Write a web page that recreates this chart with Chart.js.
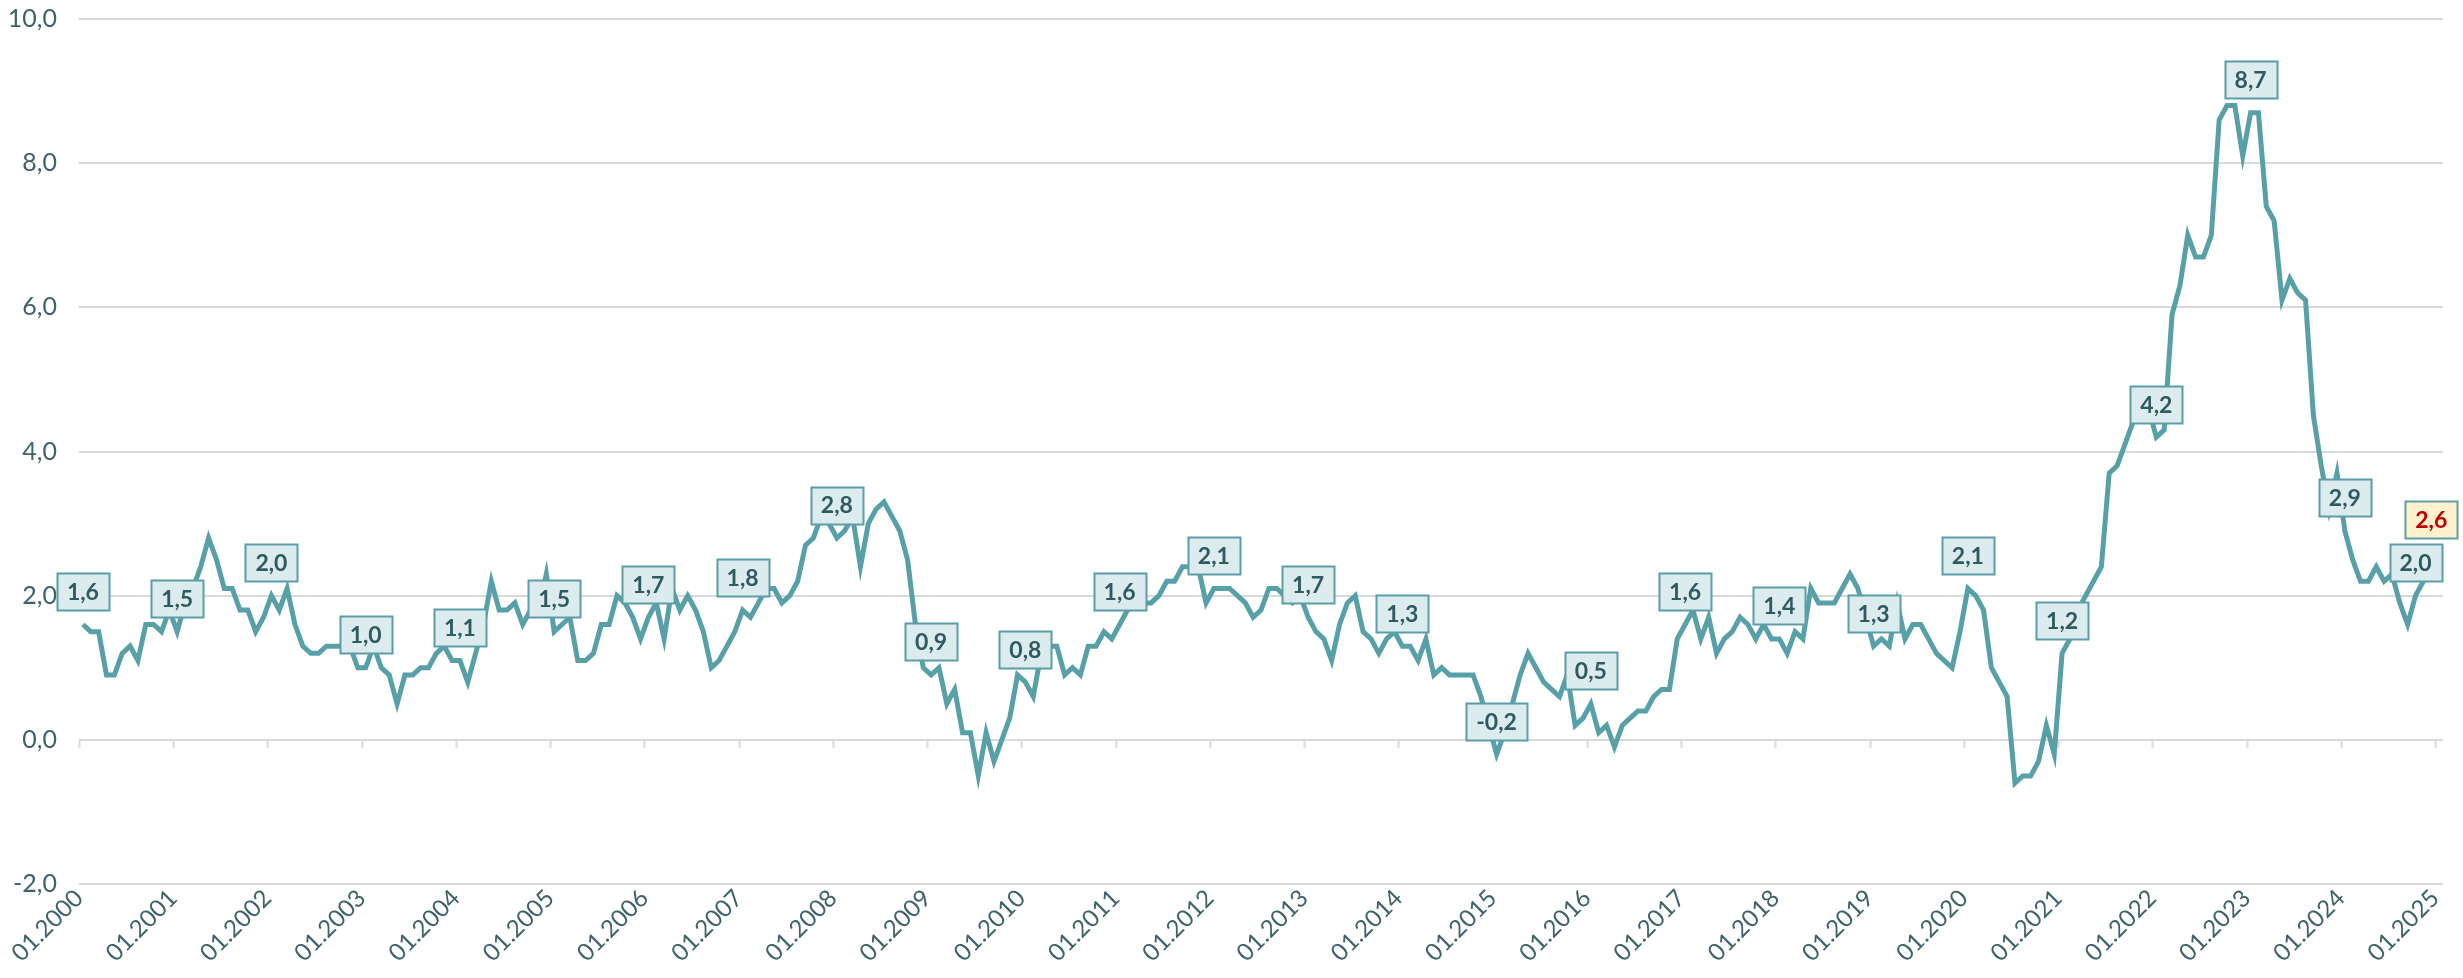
<!DOCTYPE html>
<html>
<head>
<meta charset="utf-8">
<script src="https://cdn.jsdelivr.net/npm/chart.js@4.4.1/dist/chart.umd.min.js"></script>
<style>
  html, body { margin: 0; padding: 0; background: #fff; }
  canvas { display: block; }
</style>
</head>
<body>
<canvas id="cpiChart" width="2463" height="978"></canvas>
<script>
// Monthly yearly change in %, Jan..Dec for each year
const y2000 = [1.6, 1.5, 1.5, 0.9, 0.9, 1.2, 1.3, 1.1, 1.6, 1.6, 1.5, 1.8];
const y2001 = [1.5, 1.9, 2.1, 2.4, 2.8, 2.5, 2.1, 2.1, 1.8, 1.8, 1.5, 1.7];
const y2002 = [2.0, 1.8, 2.1, 1.6, 1.3, 1.2, 1.2, 1.3, 1.3, 1.3, 1.3, 1.0];
const y2003 = [1.0, 1.3, 1.0, 0.9, 0.5, 0.9, 0.9, 1.0, 1.0, 1.2, 1.3, 1.1];
const y2004 = [1.1, 0.8, 1.2, 1.6, 2.2, 1.8, 1.8, 1.9, 1.6, 1.8, 1.8, 2.3];
const y2005 = [1.5, 1.6, 1.7, 1.1, 1.1, 1.2, 1.6, 1.6, 2.0, 1.9, 1.7, 1.4];
const y2006 = [1.7, 1.9, 1.4, 2.1, 1.8, 2.0, 1.8, 1.5, 1.0, 1.1, 1.3, 1.5];
const y2007 = [1.8, 1.7, 1.9, 2.1, 2.1, 1.9, 2.0, 2.2, 2.7, 2.8, 3.1, 3.0];
const y2008 = [2.8, 2.9, 3.1, 2.4, 3.0, 3.2, 3.3, 3.1, 2.9, 2.5, 1.6, 1.0];
const y2009 = [0.9, 1.0, 0.5, 0.7, 0.1, 0.1, -0.5, 0.1, -0.3, 0.0, 0.3, 0.9];
const y2010 = [0.8, 0.6, 1.2, 1.3, 1.3, 0.9, 1.0, 0.9, 1.3, 1.3, 1.5, 1.4];
const y2011 = [1.6, 1.8, 1.9, 1.9, 1.9, 2.0, 2.2, 2.2, 2.4, 2.4, 2.4, 1.9];
const y2012 = [2.1, 2.1, 2.1, 2.0, 1.9, 1.7, 1.8, 2.1, 2.1, 2.0, 1.9, 2.0];
const y2013 = [1.7, 1.5, 1.4, 1.1, 1.6, 1.9, 2.0, 1.5, 1.4, 1.2, 1.4, 1.5];
const y2014 = [1.3, 1.3, 1.1, 1.4, 0.9, 1.0, 0.9, 0.9, 0.9, 0.9, 0.6, 0.2];
const y2015 = [-0.2, 0.1, 0.5, 0.9, 1.2, 1.0, 0.8, 0.7, 0.6, 0.9, 0.2, 0.3];
const y2016 = [0.5, 0.1, 0.2, -0.1, 0.2, 0.3, 0.4, 0.4, 0.6, 0.7, 0.7, 1.4];
const y2017 = [1.6, 1.8, 1.4, 1.7, 1.2, 1.4, 1.5, 1.7, 1.6, 1.4, 1.6, 1.4];
const y2018 = [1.4, 1.2, 1.5, 1.4, 2.1, 1.9, 1.9, 1.9, 2.1, 2.3, 2.1, 1.7];
const y2019 = [1.3, 1.4, 1.3, 1.9, 1.4, 1.6, 1.6, 1.4, 1.2, 1.1, 1.0, 1.5];
const y2020 = [2.1, 2.0, 1.8, 1.0, 0.8, 0.6, -0.6, -0.5, -0.5, -0.3, 0.2, -0.2];
const y2021 = [1.2, 1.4, 1.8, 2.0, 2.2, 2.4, 3.7, 3.8, 4.1, 4.4, 4.7, 4.6];
const y2022 = [4.2, 4.3, 5.9, 6.3, 7.0, 6.7, 6.7, 7.0, 8.6, 8.8, 8.8, 8.1];
const y2023 = [8.7, 8.7, 7.4, 7.2, 6.1, 6.4, 6.2, 6.1, 4.5, 3.8, 3.2, 3.7];
const y2024 = [2.9, 2.5, 2.2, 2.2, 2.4, 2.2, 2.3, 1.9, 1.6, 2.0, 2.2, null];

// latest value (12.2024), shown only as highlighted label
const latestMonth = '12.2024';
const latestValue = 2.6;

// months that get a value box
const labelledMonths = [
  '01.2000', '01.2001', '01.2002', '01.2003', '01.2004', '01.2005', '01.2006',
  '01.2007', '01.2008', '01.2009', '01.2010', '01.2011', '01.2012', '01.2013',
  '01.2014', '01.2015', '01.2016', '01.2017', '01.2018', '01.2019', '01.2020',
  '01.2021', '01.2022', '01.2023', '01.2024', '10.2024'
];

const yearTicks = [
  '01.2000', '01.2001', '01.2002', '01.2003', '01.2004', '01.2005', '01.2006',
  '01.2007', '01.2008', '01.2009', '01.2010', '01.2011', '01.2012', '01.2013',
  '01.2014', '01.2015', '01.2016', '01.2017', '01.2018', '01.2019', '01.2020',
  '01.2021', '01.2022', '01.2023', '01.2024', '01.2025'
];

const firstYear = 2000;
const values = [].concat(y2000, y2001, y2002, y2003, y2004, y2005, y2006, y2007,
  y2008, y2009, y2010, y2011, y2012, y2013, y2014, y2015, y2016, y2017, y2018,
  y2019, y2020, y2021, y2022, y2023, y2024);

// month key 'MM.YYYY' -> index from Jan 2000
function monthIndex(key) {
  const [mm, yyyy] = key.split('.');
  return (parseInt(yyyy, 10) - firstYear) * 12 + parseInt(mm, 10) - 1;
}

const points = values.map((v, i) => ({ x: i + 0.5, y: v }));

const fmt = v => v.toFixed(1).replace('.', ',');

const textColor = '#3e6269';
const gridColor = '#d9d9d9';
const lineColor = '#58a0a8';

// small tick marks on the zero line
const zeroTicks = {
  id: 'zeroTicks',
  beforeDatasetsDraw(chart) {
    const { ctx, scales: { x, y } } = chart;
    const y0 = y.getPixelForValue(0);
    ctx.save();
    ctx.strokeStyle = gridColor;
    ctx.lineWidth = 2;
    ctx.beginPath();
    yearTicks.forEach((t, i) => {
      const px = Math.round(x.getPixelForValue(i * 12)) + 0.5;
      ctx.moveTo(px, y0);
      ctx.lineTo(px, y0 + 8);
    });
    ctx.stroke();
    ctx.restore();
  }
};

// value boxes above the line
const valueBoxes = {
  id: 'valueBoxes',
  afterDatasetsDraw(chart) {
    const { ctx, scales: { x, y } } = chart;
    ctx.save();
    ctx.font = 'bold 23px Lato';
    ctx.textAlign = 'center';
    ctx.textBaseline = 'middle';

    function box(idx, v, fill, color) {
      const px = x.getPixelForValue(idx + 0.5);
      const py = y.getPixelForValue(v) - 33;
      const text = fmt(v);
      const w = Math.round(ctx.measureText(text).width + 20);
      const h = 37;
      const left = Math.round(px - w / 2) + 0.5;
      const top = Math.round(py - h / 2) + 0.5;
      ctx.fillStyle = fill;
      ctx.fillRect(left, top, w, h);
      ctx.lineWidth = 2;
      ctx.strokeStyle = '#5b9ea6';
      ctx.strokeRect(left, top, w, h);
      ctx.fillStyle = color;
      ctx.fillText(text, px, py + 1);
    }

    labelledMonths.forEach(key => {
      const i = monthIndex(key);
      box(i, values[i], '#dcebee', '#2f5a60');
    });
    box(monthIndex(latestMonth), latestValue, '#fff2cc', '#c00000');
    ctx.restore();
  }
};

Chart.defaults.font.family = 'Lato, "Open Sans", sans-serif';

new Chart(document.getElementById('cpiChart'), {
  type: 'line',
  data: {
    datasets: [{
      label: 'Veränderung zum Vorjahresmonat in %',
      data: points,
      borderColor: lineColor,
      borderWidth: 5,
      pointRadius: 0,
      tension: 0,
      spanGaps: false
    }]
  },
  options: {
    responsive: false,
    animation: false,
    devicePixelRatio: 1,
    layout: { padding: { top: 19, right: 20, left: 0, bottom: 0 } },
    plugins: {
      legend: { display: false },
      tooltip: { enabled: false }
    },
    scales: {
      x: {
        type: 'linear',
        min: 0,
        max: 301,
        grid: { display: false },
        border: { display: false },
        afterFit(scale) { scale.height = 94; },
        afterBuildTicks(scale) {
          scale.ticks = yearTicks.map((t, i) => ({ value: i * 12 }));
        },
        ticks: {
          autoSkip: false,
          minRotation: 45,
          maxRotation: 45,
          padding: -8,
          color: textColor,
          font: { size: 24 },
          callback: v => yearTicks[Math.round(v / 12)]
        }
      },
      y: {
        min: -2,
        max: 10,
        afterFit(scale) {
          scale.width = 79;
          scale.paddingTop = 0;
          scale.paddingBottom = 0;
        },
        grid: { color: gridColor, lineWidth: 2, drawTicks: false },
        border: { display: false },
        ticks: {
          stepSize: 2,
          padding: 22,
          color: textColor,
          font: { size: 25 },
          callback: v => fmt(v)
        }
      }
    }
  },
  plugins: [zeroTicks, valueBoxes]
});
</script>
</body>
</html>
